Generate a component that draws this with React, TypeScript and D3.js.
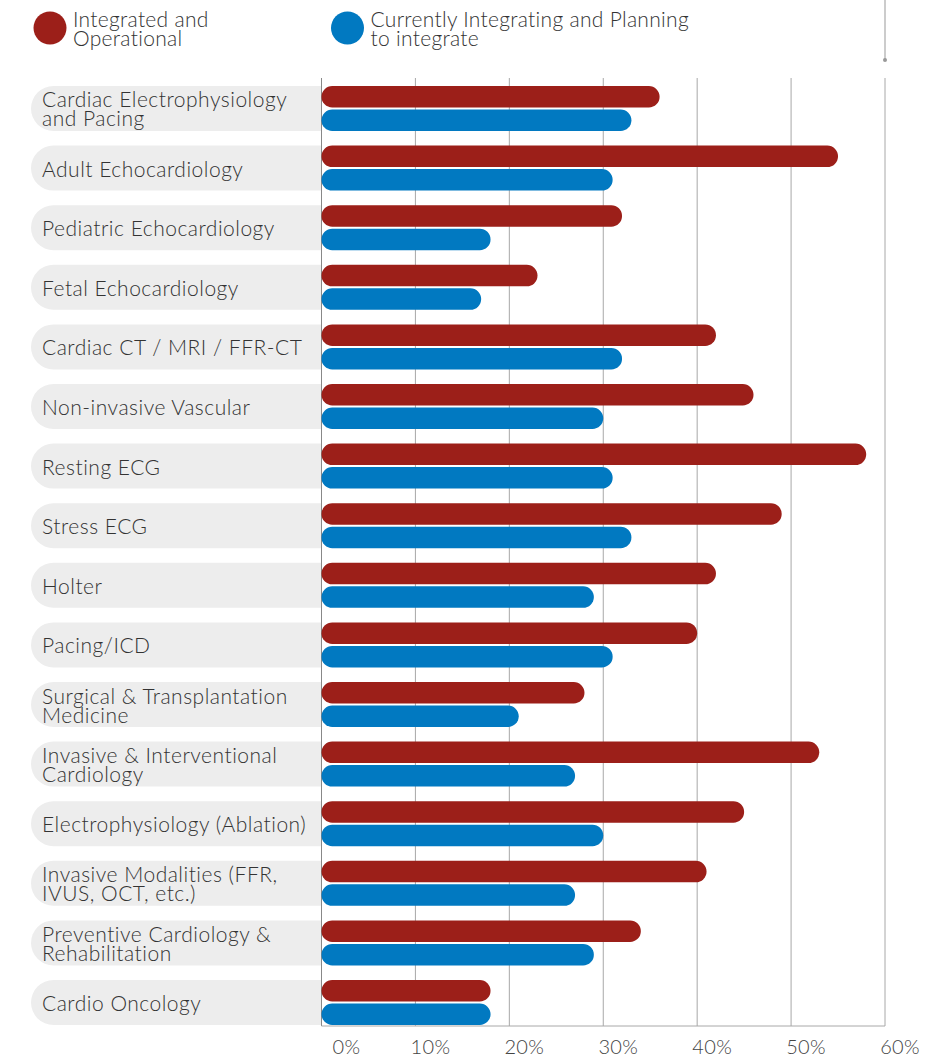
import React from "react";
import * as d3 from "d3";

const categories: string[][] = [
  ["Cardiac Electrophysiology", "and Pacing"],
  ["Adult Echocardiology"],
  ["Pediatric Echocardiology"],
  ["Fetal Echocardiology"],
  ["Cardiac CT / MRI / FFR-CT"],
  ["Non-invasive Vascular"],
  ["Resting ECG"],
  ["Stress ECG"],
  ["Holter"],
  ["Pacing/ICD"],
  ["Surgical & Transplantation", "Medicine"],
  ["Invasive & Interventional", "Cardiology"],
  ["Electrophysiology (Ablation)"],
  ["Invasive Modalities (FFR,", "IVUS, OCT, etc.)"],
  ["Preventive Cardiology &", "Rehabilitation"],
  ["Cardio Oncology"],
];
const integrated: number[] = [36, 55, 32, 23, 42, 46, 58, 49, 42, 40, 28, 53, 45, 41, 34, 18];
const planning: number[] = [33, 31, 18, 17, 32, 30, 31, 33, 29, 31, 21, 27, 30, 27, 29, 18];
const ticks: number[] = [0, 10, 20, 30, 40, 50, 60];
const legendItems = [
  { lines: ["Integrated and", "Operational"], color: "#9c1f19" },
  { lines: ["Currently Integrating and Planning", "to integrate"], color: "#0179c1" },
];

const RED = "#9c1f19";
const BLUE = "#0179c1";
const FONT = "Lato, 'Open Sans', sans-serif";

export default function App() {
  const W = 951, H = 1057;
  const x = d3.scaleLinear().domain([0, 60]).range([321.5, 885]);
  const keys = categories.map((_, i) => String(i));
  const y = d3.scaleBand<string>().domain(keys).range([86, 1025]).paddingInner(0.245).paddingOuter(0);
  const bh = y.bandwidth();
  const barH = (bh - 2) / 2;
  const pillLeft = 31;

  const barPath = (x0: number, x1: number, yt: number, h: number) => {
    const r = h / 2;
    const p = d3.path();
    p.moveTo(x0 + r, yt);
    p.lineTo(x1 - r, yt);
    p.arc(x1 - r, yt + r, r, -Math.PI / 2, Math.PI / 2);
    p.lineTo(x0 + r, yt + h);
    p.arc(x0 + r, yt + r, r, Math.PI / 2, (3 * Math.PI) / 2);
    p.closePath();
    return p.toString();
  };
  const pillPath = (x0: number, x1: number, yt: number, h: number) => {
    const r = h / 2;
    const p = d3.path();
    p.moveTo(x0 + r, yt);
    p.lineTo(x1, yt);
    p.lineTo(x1, yt + h);
    p.lineTo(x0 + r, yt + h);
    p.arc(x0 + r, yt + r, r, Math.PI / 2, (3 * Math.PI) / 2);
    p.closePath();
    return p.toString();
  };

  return (
    <svg width={W} height={H} style={{ position: "absolute", left: 0, top: 0, background: "#fff", fontVariantLigatures: "none" }} fontFamily={FONT} fontWeight={300}>
      {/* legend */}
      {legendItems.map((it, i) => {
        const cx = i === 0 ? 50 : 347.5;
        return (
          <g key={i}>
            <circle cx={cx} cy={28} r={16.5} fill={it.color} />
            {it.lines.map((l, j) => (
              <text key={j} x={cx + 23} y={27 + j * 19} fontSize={21} letterSpacing={0.3} fill="#333">{l}</text>
            ))}
          </g>
        );
      })}
      <line x1={x(60)} x2={x(60)} y1={0} y2={60} stroke="#999" strokeWidth={1} />
      <circle cx={x(60)} cy={60} r={2} fill="#999" />

      {/* pills */}
      {categories.map((c, i) => (
        <path key={"p" + i} d={pillPath(pillLeft, x(0), y(String(i))!, bh)} fill="#ededed" />
      ))}

      {/* grid */}
      {ticks.map((t) => (
        <line key={"g" + t} x1={x(t)} x2={x(t)} y1={78} y2={1026} stroke={t === 0 ? "#888" : "#a8a8a8"} strokeWidth={1} />
      ))}
      <line x1={x(0)} x2={x(60)} y1={1026} y2={1026} stroke="#a8a8a8" strokeWidth={1} />

      {/* bars */}
      {categories.map((c, i) => {
        const yt = y(String(i))!;
        return (
          <g key={"b" + i}>
            <path d={barPath(x(0), x(integrated[i]), yt, barH)} fill={RED} />
            <path d={barPath(x(0), x(planning[i]), yt + barH + 2, barH)} fill={BLUE} />
          </g>
        );
      })}

      {/* labels */}
      {categories.map((c, i) => {
        const cy = y(String(i))! + bh / 2;
        const n = c.length;
        return (
          <g key={"l" + i}>
            {c.map((l, j) => (
              <text key={j} x={42} y={cy + 8.5 + (j - (n - 1) / 2) * 19} fontSize={21} letterSpacing={0.5} fill="#333">{l}</text>
            ))}
          </g>
        );
      })}

      {/* tick labels */}
      {ticks.map((t) => (
        <text key={"t" + t} x={x(t) + (t === 0 ? 25 : 15)} y={1054} fontSize={20} letterSpacing={0.3} fill="#444" textAnchor="middle">{t}%</text>
      ))}
    </svg>
  );
}
